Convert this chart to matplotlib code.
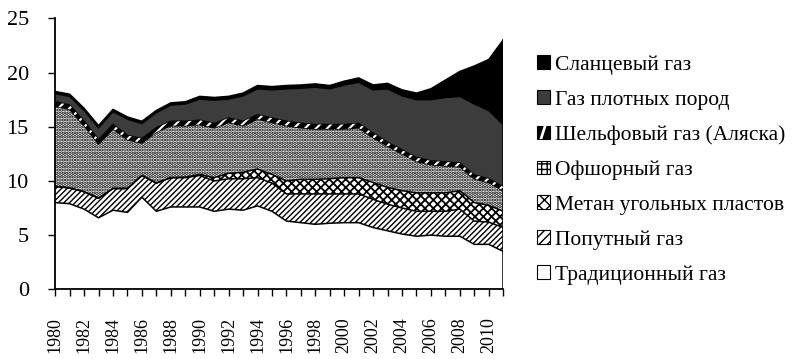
import numpy as np
import matplotlib
matplotlib.use("Agg")
import matplotlib.pyplot as plt
from matplotlib.patches import Patch, Rectangle, Polygon
from matplotlib.legend_handler import HandlerBase

plt.rcParams['font.family'] = ['Liberation Serif', 'DejaVu Serif']
plt.rcParams['hatch.linewidth'] = 1.0

years = list(range(1980, 2012))

traditional = [8.0, 7.9, 7.4, 6.6, 7.3, 7.1, 8.5, 7.2, 7.6, 7.6, 7.6, 7.2, 7.4, 7.3, 7.7, 7.2,
               6.3, 6.15, 6.0, 6.1, 6.15, 6.15, 5.7, 5.4, 5.1, 4.9, 5.0, 4.9, 4.9, 4.15, 4.15, 3.5]
associated = [1.5, 1.45, 1.6, 1.8, 2.0, 2.2, 2.0, 2.6, 2.7, 2.7, 2.9, 2.8, 2.8, 2.9, 2.6, 2.6,
              2.5, 2.65, 2.8, 2.7, 2.65, 2.65, 2.6, 2.45, 2.4, 2.3, 2.2, 2.3, 2.5, 2.15, 2.05, 2.2]
coalbed = [0, 0, 0, 0, 0, 0, 0, 0, 0, 0.05, 0.1, 0.3, 0.5, 0.6, 0.8, 0.8,
           1.2, 1.35, 1.35, 1.4, 1.5, 1.5, 1.55, 1.55, 1.6, 1.7, 1.7, 1.7, 1.7, 1.7, 1.55, 1.5]
offshore = [7.4, 7.25, 6.1, 5.0, 5.5, 4.5, 3.0, 4.7, 4.8, 4.75, 4.6, 4.6, 4.7, 4.3, 4.6, 4.8,
            5.1, 4.75, 4.65, 4.6, 4.5, 4.6, 4.15, 3.8, 3.4, 2.9, 2.6, 2.5, 2.2, 2.2, 2.1, 1.9]
alaska = [0.4, 0.4, 0.4, 0.4, 0.4, 0.4, 0.4, 0.4, 0.4, 0.4, 0.4, 0.4, 0.4, 0.4, 0.4, 0.4,
          0.4, 0.4, 0.4, 0.4, 0.4, 0.4, 0.4, 0.35, 0.35, 0.35, 0.35, 0.35, 0.35, 0.35, 0.35, 0.35]
tight = [0.75, 0.8, 1.0, 1.1, 1.2, 1.5, 1.4, 1.4, 1.5, 1.6, 1.95, 2.15, 1.75, 2.35, 2.4, 2.6,
         3.0, 3.25, 3.45, 3.3, 3.65, 3.8, 4.0, 4.95, 5.0, 5.35, 5.65, 5.95, 6.15, 6.55, 6.3, 5.75]
shale = [0.2, 0.2, 0.2, 0.2, 0.2, 0.2, 0.2, 0.2, 0.2, 0.2, 0.25, 0.25, 0.25, 0.25, 0.3, 0.3,
         0.3, 0.3, 0.3, 0.3, 0.35, 0.4, 0.45, 0.5, 0.55, 0.6, 1.0, 1.6, 2.3, 3.5, 4.7, 7.8]

labels = ["Традиционный газ", "Попутный газ", "Метан угольных пластов", "Офшорный газ",
          "Шельфовый газ (Аляска)", "Газ плотных пород", "Сланцевый газ"]
series = [traditional, associated, coalbed, offshore, alaska, tight, shale]
faces = ["white", "white", "white", "white", "black", "#3c3c3c", "black"]
hatches = [None, "//////", "xxxx", ".....", "///", None, None]
hatch_cols = ["black", "black", "black", "black", "white", "black", "black"]
hatch_lws = [1.0, 1.0, 1.3, 1.7, 1.5, 1.0, 1.0]

fig = plt.figure(figsize=(8, 3.59), dpi=100)
ax = fig.add_axes([0.069, 0.194, 0.56, 0.755])

x = np.array(years)
lower = np.zeros(len(years))
for vals, fc, h, hc, hlw in zip(series, faces, hatches, hatch_cols, hatch_lws):
    upper = lower + np.array(vals)
    ax.fill_between(x, lower, upper, facecolor=fc, edgecolor='none', linewidth=0, zorder=1)
    if h:
        with plt.rc_context({'hatch.linewidth': hlw}):
            coll = ax.fill_between(x, lower, upper, facecolor='none', edgecolor=hc, hatch=h,
                                   linewidth=0, zorder=3 if hc == 'white' else 1.5)
        if hasattr(coll, 'set_hatch_linewidth'):
            coll.set_hatch_linewidth(hlw)
    ax.plot(x, upper, color='black', linewidth=1.1, zorder=2)
    lower = upper
ax.plot([x[-1], x[-1]], [0, lower[-1]], color='black', linewidth=1.1, zorder=2)

ax.set_xlim(1980, 2011)
ax.set_ylim(0, 25)
ax.set_yticks([0, 5, 10, 15, 20, 25])
ax.set_xticks(list(range(1980, 2011, 2)))
ax.set_xticks(years, minor=True)
ax.tick_params(axis='x', which='both', direction='out', length=5, width=1, labelrotation=90,
               labelsize=13, pad=15)
ax.tick_params(axis='y', direction='out', length=5, width=1, labelsize=16, pad=14)
for s in ['top', 'right']:
    ax.spines[s].set_visible(False)
for s in ['left', 'bottom']:
    ax.spines[s].set_linewidth(1.3)


class StripeHandler(HandlerBase):
    def create_artists(self, legend, orig_handle, xdescent, ydescent, width, height,
                       fontsize, trans):
        x0, y0 = -xdescent, -ydescent
        r = Rectangle((x0, y0), width, height, facecolor='black', edgecolor='black',
                      linewidth=0.8, transform=trans)
        w = 0.22 * width
        stripe = Polygon([(x0 + w, y0), (x0 + 2 * w, y0), (x0 + width - w, y0 + height),
                          (x0 + width - 2 * w, y0 + height)], closed=True,
                         facecolor='white', edgecolor='none', transform=trans)
        return [r, stripe]


handles = []
handler_map = {}
for lab, fc, h, hc in list(zip(labels, faces, hatches, hatch_cols))[::-1]:
    if hc == 'white':
        p = Patch(facecolor='black', edgecolor='black', label=lab)
        handler_map[p] = StripeHandler()
    else:
        hh = {"//////": "////", "xxxx": "xxx", ".....": "+++"}.get(h, h)
        p = Patch(facecolor=fc, edgecolor='black', hatch=hh, linewidth=0.8, label=lab)
    handles.append(p)
leg = fig.legend(handles=handles, loc='upper left', bbox_to_anchor=(0.66, 0.87),
                 frameon=False, fontsize=15.5, handlelength=0.6, handleheight=0.6,
                 handletextpad=0.25, labelspacing=0.72, borderaxespad=0,
                 handler_map=handler_map)

fig.savefig("out.png", dpi=100)
